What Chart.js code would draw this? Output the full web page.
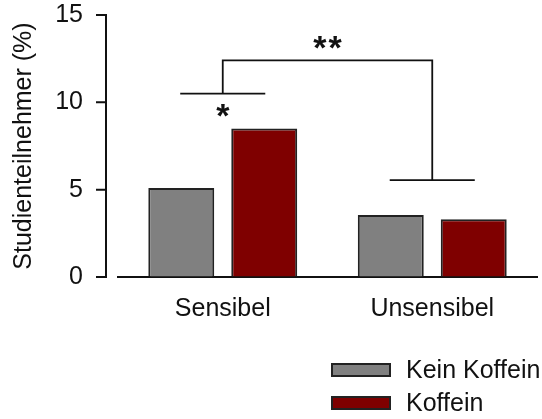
<!DOCTYPE html>
<html>
<head>
<meta charset="utf-8">
<script src="https://cdn.jsdelivr.net/npm/chart.js@4/dist/chart.umd.min.js"></script>
<style>
  html, body { margin: 0; padding: 0; background: #fff; }
  #wrap { position: relative; width: 542px; height: 419px; }
  #legend {
    position: absolute; left: 331px; top: 353px;
    font-family: "Liberation Sans", Arial, sans-serif; font-size: 25px; color: #111;
  }
  .item { display: flex; align-items: center; height: 33px; }
  .swatch { width: 56px; height: 10px; border: 2px solid #222; margin-right: 15px; }
</style>
</head>
<body>
<div id="wrap">
  <canvas id="chart" width="542" height="419"></canvas>
  <div id="legend"></div>
</div>
<script>
const categories = ["Sensibel", "Unsensibel"];
const keinKoffein = [5.1, 3.55];
const koffein = [8.5, 3.3];
const yTicks = [0, 5, 10, 15];

// significance marks: bracket level per group, the joining level, star heights
const groupLevels = [10.5, 5.55];
const joinLevel = 12.4;
const innerStar = { text: "*", y: 9.5 };
const outerStar = { text: "**", y: 13.4 };

Chart.defaults.font.family = '"Liberation Sans", Arial, sans-serif';
Chart.defaults.font.size = 25;
Chart.defaults.color = "#111";

const marks = {
  id: "marks",
  afterDraw(chart) {
    const { ctx, chartArea, scales: { x, y } } = chart;
    ctx.save();
    ctx.strokeStyle = "#111";

    // y axis drawn a little apart from the x axis
    const ax = chartArea.left - 12;
    ctx.lineWidth = 2;
    ctx.beginPath();
    ctx.moveTo(ax, y.top - 1);
    ctx.lineTo(ax, y.bottom + 1);
    y.ticks.forEach((t, i) => {
      const py = y.getPixelForTick(i);
      ctx.moveTo(ax - 10, py);
      ctx.lineTo(ax, py);
    });
    ctx.stroke();

    // brackets
    const c0 = x.getPixelForValue(0);
    const c1 = x.getPixelForValue(1);
    const half = (c1 - c0) * 0.203;
    ctx.lineWidth = 1.8;
    ctx.beginPath();
    [c0, c1].forEach((cx, i) => {
      const py = y.getPixelForValue(groupLevels[i]);
      ctx.moveTo(cx - half, py);
      ctx.lineTo(cx + half, py);
    });
    ctx.moveTo(c0, y.getPixelForValue(groupLevels[0]));
    ctx.lineTo(c0, y.getPixelForValue(joinLevel));
    ctx.lineTo(c1, y.getPixelForValue(joinLevel));
    ctx.lineTo(c1, y.getPixelForValue(groupLevels[1]));
    ctx.stroke();

    ctx.fillStyle = "#111";
    ctx.font = 'bold 34px "Liberation Sans", Arial, sans-serif';
    ctx.textAlign = "center";
    ctx.textBaseline = "alphabetic";
    ctx.fillText(innerStar.text, c0, y.getPixelForValue(innerStar.y) + 16);
    ctx.letterSpacing = "2px";
    ctx.fillText(outerStar.text, (c0 + c1) / 2 + 1, y.getPixelForValue(outerStar.y) + 16);
    ctx.restore();
  }
};

const chart = new Chart(document.getElementById("chart"), {
  type: "bar",
  data: {
    labels: categories,
    datasets: [
      {
        label: "Kein Koffein",
        data: keinKoffein,
        backgroundColor: "#808080",
        borderColor: "#222",
        borderWidth: 2
      },
      {
        label: "Koffein",
        data: koffein,
        backgroundColor: "#7f0000",
        borderColor: "#222",
        borderWidth: 2
      }
    ]
  },
  options: {
    responsive: false,
    animation: false,
    devicePixelRatio: 1,
    layout: { padding: { top: 0, right: 5, bottom: 86, left: 0 } },
    datasets: {
      bar: { categoryPercentage: 0.792, barPercentage: 0.795 }
    },
    plugins: {
      legend: { display: false },
      tooltip: { enabled: false }
    },
    scales: {
      x: {
        grid: { display: false },
        border: { display: true, color: "#111", width: 2 },
        ticks: { padding: 9 }
      },
      y: {
        min: 0,
        max: 15,
        afterBuildTicks: scale => { scale.ticks = yTicks.map(v => ({ value: v })); },
        afterFit: scale => { scale.width = 118; },
        border: { display: false },
        grid: {
          drawOnChartArea: false,
          drawTicks: true,
          tickLength: 35,
          color: "rgba(0,0,0,0)"
        },
        ticks: { padding: 0 },
        title: {
          display: true,
          text: "Studienteilnehmer (%)",
          font: { size: 25 },
          color: "#111",
          padding: { top: 9, bottom: 0 }
        }
      }
    }
  },
  plugins: [marks]
});

// legend built from the datasets
const legend = document.getElementById("legend");
chart.data.datasets.forEach(ds => {
  const row = document.createElement("div");
  row.className = "item";
  row.innerHTML = `<span class="swatch" style="background:${ds.backgroundColor}"></span><span>${ds.label}</span>`;
  legend.appendChild(row);
});
</script>
</body>
</html>
